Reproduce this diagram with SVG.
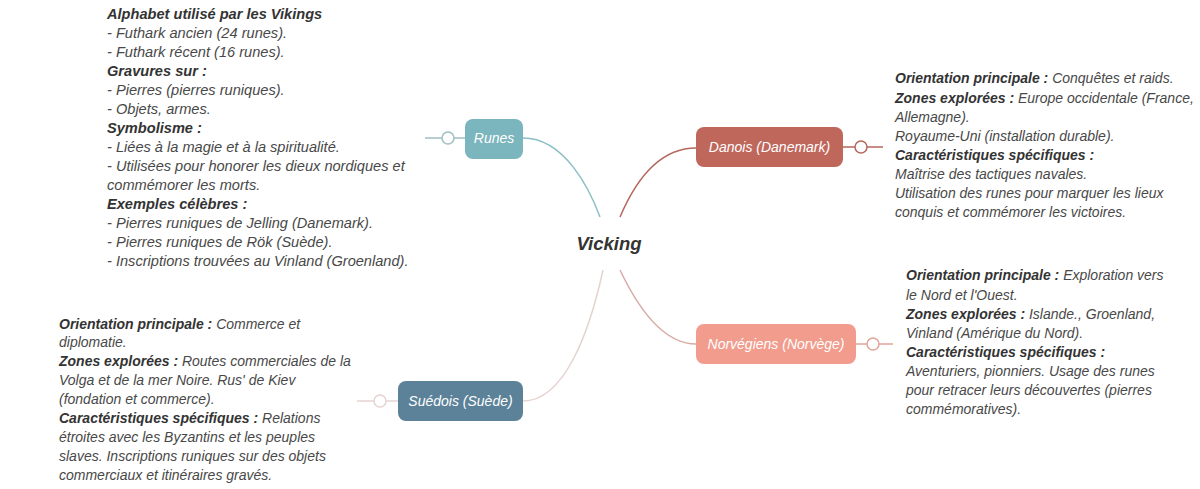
<svg xmlns="http://www.w3.org/2000/svg" width="1200" height="489" viewBox="0 0 1200 489">
<style>
.t{font-family:"Liberation Sans",Arial,sans-serif;font-style:italic;font-size:14px;fill:#484848}
.t2{font-size:14.6px}
.b{font-weight:bold;fill:#333}
.n{font-family:"Liberation Sans",Arial,sans-serif;font-style:italic;font-size:14px;fill:#fff;text-anchor:middle}
.c{fill:none;stroke-width:1.5}
.k{fill:#fff;stroke-width:1.5}
</style>
<rect width="1200" height="489" fill="#fff"/>
<g id="connectors">
<path class="c" stroke="#8cbfc5" d="M523,138 C565,138 590,190 600,217"/>
<path class="c" stroke="#b5675d" d="M620,217 C640,170 665,148 696,148"/>
<path class="c" stroke="#d8aba4" d="M620,270 C640,312 665,344 696,344"/>
<path class="c" stroke="#e6d3d0" d="M603,270 C590,330 565,401 523,401"/>
<line class="c" stroke="#9fbfc3" x1="425" y1="138" x2="465" y2="138"/>
<circle class="k" stroke="#9fbfc3" cx="448" cy="138" r="6"/>
<line class="c" stroke="#b5675d" x1="843" y1="147" x2="883" y2="147"/>
<circle class="k" stroke="#b5675d" cx="861" cy="147" r="6"/>
<line class="c" stroke="#e0a59b" x1="856" y1="344" x2="893" y2="344"/>
<circle class="k" stroke="#e0a59b" cx="873" cy="344" r="6"/>
<line class="c" stroke="#e6d3d0" x1="357" y1="401" x2="398" y2="401"/>
<circle class="k" stroke="#e6d3d0" cx="380" cy="401" r="6"/>
</g>
<g id="vicking">
<text x="609" y="250" text-anchor="middle" font-family="Liberation Sans,Arial,sans-serif" font-style="italic" font-weight="bold" font-size="18.5" fill="#333">Vicking</text>
</g>
<g id="runes">
<rect x="465" y="119" width="58" height="40" rx="8" fill="#7bb5bd"/>
<text class="n" x="494" y="143">Runes</text>
</g>
<g id="danois">
<rect x="696" y="127" width="147" height="40" rx="8" fill="#c0675b"/>
<text class="n" x="769.500" y="152">Danois (Danemark)</text>
</g>
<g id="norvegiens">
<rect x="696" y="324" width="160" height="40" rx="8" fill="#f19c8c"/>
<text class="n" x="776" y="349">Norvégiens (Norvège)</text>
</g>
<g id="suedois">
<rect x="398" y="381" width="125" height="40" rx="8" fill="#5b8299"/>
<text class="n" x="460.500" y="406">Suédois (Suède)</text>
</g>
<g id="runes-notes">
<text class="t t2" x="107" y="19">
<tspan class="b">Alphabet utilisé par les Vikings</tspan>
<tspan x="107" y="38">- Futhark ancien (24 runes).</tspan>
<tspan x="107" y="57">- Futhark récent (16 runes).</tspan>
<tspan x="107" y="76" class="b">Gravures sur :</tspan>
<tspan x="107" y="95">- Pierres (pierres runiques).</tspan>
<tspan x="107" y="114">- Objets, armes.</tspan>
<tspan x="107" y="133" class="b">Symbolisme :</tspan>
<tspan x="107" y="152">- Liées à la magie et à la spiritualité.</tspan>
<tspan x="107" y="171">- Utilisées pour honorer les dieux nordiques et</tspan>
<tspan x="107" y="190">commémorer les morts.</tspan>
<tspan x="107" y="209" class="b">Exemples célèbres :</tspan>
<tspan x="107" y="228">- Pierres runiques de Jelling (Danemark).</tspan>
<tspan x="107" y="247">- Pierres runiques de Rök (Suède).</tspan>
<tspan x="107" y="266">- Inscriptions trouvées au Vinland (Groenland).</tspan>
</text>
</g>
<g id="danois-notes">
<text class="t" x="895" y="83">
<tspan class="b">Orientation principale :</tspan> Conquêtes et raids.
<tspan x="895" y="103" class="b">Zones explorées :</tspan> Europe occidentale (France,
<tspan x="895" y="122">Allemagne).</tspan>
<tspan x="895" y="141">Royaume-Uni (installation durable).</tspan>
<tspan x="895" y="160" class="b">Caractéristiques spécifiques :</tspan>
<tspan x="895" y="179">Maîtrise des tactiques navales.</tspan>
<tspan x="895" y="198">Utilisation des runes pour marquer les lieux</tspan>
<tspan x="895" y="217">conquis et commémorer les victoires.</tspan>
</text>
</g>
<g id="norvegiens-notes">
<text class="t" x="906" y="280">
<tspan class="b">Orientation principale :</tspan> Exploration vers
<tspan x="906" y="300">le Nord et l'Ouest.</tspan>
<tspan x="906" y="319" class="b">Zones explorées :</tspan> Islande., Groenland,
<tspan x="906" y="338">Vinland (Amérique du Nord).</tspan>
<tspan x="906" y="357" class="b">Caractéristiques spécifiques :</tspan>
<tspan x="906" y="376">Aventuriers, pionniers. Usage des runes</tspan>
<tspan x="906" y="395">pour retracer leurs découvertes (pierres</tspan>
<tspan x="906" y="414">commémoratives).</tspan>
</text>
</g>
<g id="suedois-notes">
<text class="t" x="59" y="329">
<tspan class="b">Orientation principale :</tspan> Commerce et
<tspan x="59" y="347">diplomatie.</tspan>
<tspan x="59" y="366" class="b">Zones explorées :</tspan> Routes commerciales de la
<tspan x="59" y="385">Volga et de la mer Noire. Rus' de Kiev</tspan>
<tspan x="59" y="404">(fondation et commerce).</tspan>
<tspan x="59" y="423" class="b">Caractéristiques spécifiques :</tspan> Relations
<tspan x="59" y="442">étroites avec les Byzantins et les peuples</tspan>
<tspan x="59" y="461">slaves. Inscriptions runiques sur des objets</tspan>
<tspan x="59" y="480">commerciaux et itinéraires gravés.</tspan>
</text>
</g>
</svg>
